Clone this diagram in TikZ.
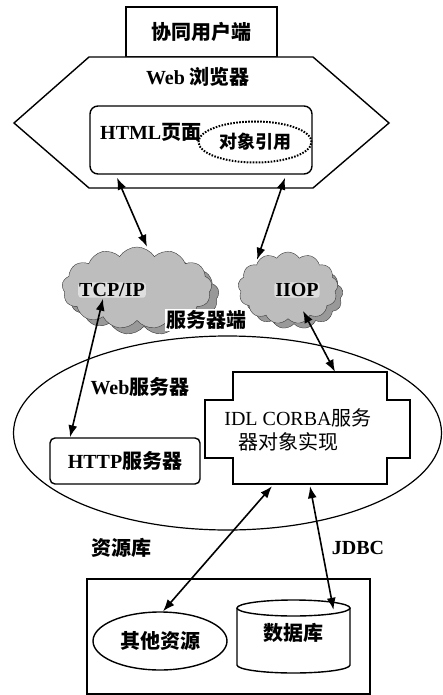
\documentclass[tikz,border=0pt]{standalone}
\usepackage{fontspec}
\setmainfont{Liberation Serif}
\newfontfamily\cjk{Noto Sans CJK SC}
\newcommand\zh[1]{{\cjk #1}}
\usetikzlibrary{arrows.meta,shapes.geometric,shapes.symbols,calc}

\begin{document}
\begin{tikzpicture}[x=1pt,y=-1pt,
  lbl/.style={font=\fontsize{20}{23}\selectfont\bfseries, inner sep=0pt},
  small/.style={font=\fontsize{18}{21}\selectfont\bfseries, inner sep=0pt},
  box/.style={draw, line width=1.4pt},
  biarrow/.style={line width=1.6pt,
    {Latex[length=12pt,width=9pt]}-{Latex[length=12pt,width=9pt]}},
  netcloud/.style={cloud, cloud puffs=13, cloud puff arc=115, inner sep=0pt,
    draw=gray!45!black, line width=0.4pt},
]
\useasboundingbox (0,0) rectangle (443,695);

% ---------------- client side ----------------
\node[box, minimum width=151, minimum height=50, inner sep=0pt, lbl] (user)
  at (201.5,32) {\zh{协同用户端}};
\draw[box, fill=white] (89,57) -- (313,57) -- (389,123) -- (313,188)
  -- (89,188) -- (14,123) -- cycle;
\node[lbl] (browser) at (198,77) {Web \zh{浏览器}};
\node[box, rounded corners=8pt, minimum width=222, minimum height=68,
  inner sep=0pt] (html) at (201,140) {};
\node[lbl, anchor=west] (htmltext) at (100,132) {HTML\zh{页面}};
\node[draw, ellipse, line width=2pt, dash pattern=on 1.6pt off 1.4pt,
  minimum width=113, minimum height=41, inner sep=0pt, small] (ref)
  at (255,142) {\zh{对象引用}};

% ---------------- networks ----------------
\node[netcloud, fill=gray!80, minimum width=150, minimum height=80]
  at (144,295) {};
\node[netcloud, fill=gray!52, minimum width=150, minimum height=82]
  (tcp) at (137,288) {};
\node[lbl, fill=gray!25, inner sep=1pt, rounded corners=3pt] (tcptext)
  at (112,290) {TCP/IP};
\node[netcloud, fill=gray!80, minimum width=98, minimum height=68]
  at (294,295) {};
\node[netcloud, fill=gray!52, minimum width=100, minimum height=72]
  (iiop) at (288,288) {};
\node[lbl, fill=gray!25, inner sep=1pt, rounded corners=3pt] (iioptext)
  at (297,290) {IIOP};
\node[lbl, fill=white, inner sep=1pt] (srvside) at (206,320) {\zh{服务器端}};

% ---------------- server side ----------------
\draw[line width=1.2pt] (227.5,433) ellipse[x radius=214, y radius=97];
\node[lbl] (websrv) at (140,387) {Web\zh{服务器}};
\node[box, rounded corners=5pt, minimum width=150, minimum height=46,
  inner sep=0pt, lbl] (http) at (125,461) {HTTP\zh{服务器}};
\node[minimum width=154, minimum height=112, inner sep=0pt] (corba)
  at (310,428) {};
\draw[box, fill=white] (233,372) -- (387,372) -- (387,400) -- (410,400)
  -- (410,458) -- (387,458) -- (387,484) -- (233,484) -- (233,458)
  -- (205,458) -- (205,400) -- (233,400) -- cycle;
\node[font=\fontsize{20}{23}\selectfont, inner sep=0pt] (corba1)
  at (298,418) {IDL CORBA\zh{服务}};
\node[font=\fontsize{20}{23}\selectfont, inner sep=0pt] (corba2)
  at (288,442) {\zh{器对象实现}};

% ---------------- resources ----------------
\node[lbl] (res) at (121,548) {\zh{资源库}};
\node[lbl] (jdbc) at (358,548) {JDBC};
\draw[box] (87,579) rectangle (370,694);
\node[box, ellipse, minimum width=134, minimum height=58, inner sep=0pt,
  lbl] (other) at (160,641) {\zh{其他资源}};
\draw[box] (237,608) -- (237,665)
  arc[start angle=180, end angle=0, x radius=56.5, y radius=8] -- (350,608);
\draw[box] (293.5,608) ellipse[x radius=56.5, y radius=8];
\node[minimum width=113, minimum height=66, inner sep=0pt, lbl] (db)
  at (293.5,633) {\zh{数据库}};

% ---------------- connectors ----------------
\draw[biarrow] ([xshift=-84pt,yshift=-3pt]html.south) -- ([xshift=10pt]tcp.north);
\draw[biarrow] ([xshift=84pt,yshift=-3pt]html.south) -- ([xshift=-31pt,yshift=-8pt]iiop.north);
\draw[biarrow] ([xshift=-34pt,yshift=22pt]tcp.south) -- ([xshift=-55pt]http.north);
\draw[biarrow] ([xshift=15pt,yshift=8pt]iiop.south) -- ([xshift=25pt]corba.north);
\draw[biarrow] ([xshift=-38pt,yshift=-2pt]corba.south) -- ([xshift=3pt]other.north);
\draw[biarrow] ([yshift=-2pt]corba.south) -- ([xshift=40pt,yshift=-10pt]db.north);
\end{tikzpicture}
\end{document}
